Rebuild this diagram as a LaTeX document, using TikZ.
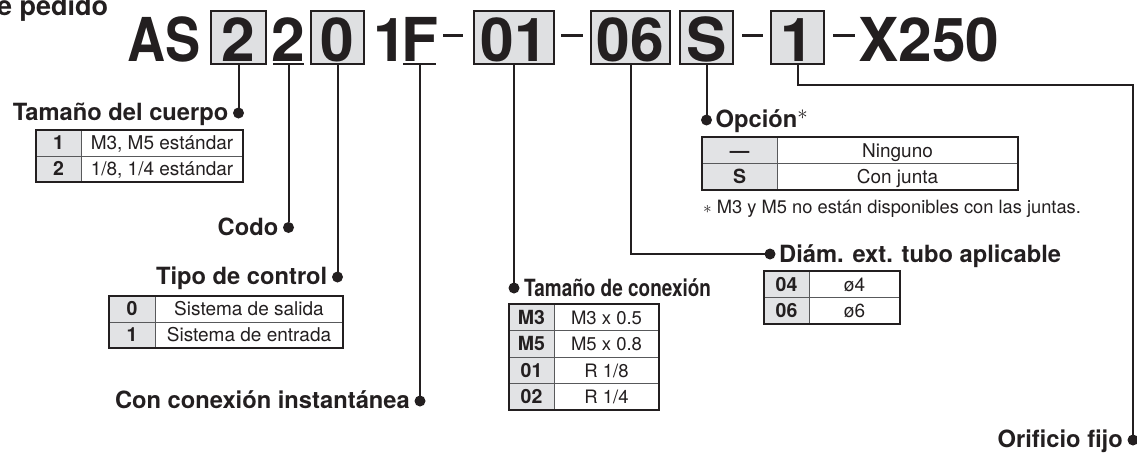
\documentclass[tikz,border=0pt]{standalone}
\usepackage{fontspec}
\setmainfont{TeX Gyre Heros}
\usetikzlibrary{calc}
\definecolor{ink}{HTML}{231F20}
\definecolor{boxgray}{HTML}{DFE0E2}
\definecolor{hdrgray}{HTML}{E2E3E5}
\definecolor{rulegray}{HTML}{58595B}
\begin{document}
\begin{tikzpicture}[x=1pt,y=-1pt,
  big/.style={font=\fontsize{60.5}{60}\selectfont\bfseries, text=ink, inner sep=0},
  codebox/.style={big, draw=ink, line width=1.6pt, fill=boxgray, inner xsep=0, inner ysep=0, text height=50.5pt, text depth=2.5pt, anchor=base},
  lbl/.style={font=\fontsize{23.7}{24}\selectfont\bfseries, text=ink, inner sep=0},
  pdot/.style={circle, fill=ink, minimum size=11pt, inner sep=0, outer sep=0},
  conn/.style={draw=ink, line width=2pt},
  dashbar/.style={draw=ink, line width=3pt},
  cell/.style={font=\fontsize{19}{19}\selectfont, text=ink, inner sep=0, anchor=base},
  hcell/.style={font=\fontsize{19.5}{19}\selectfont\bfseries, text=ink, inner sep=0, anchor=base},
  inrule/.style={draw=rulegray, line width=0.8pt},
  outrule/.style={draw=ink, line width=1.2pt},
  toprule/.style={draw=ink, line width=2pt},
]
\useasboundingbox (0,0) rectangle (1137,453);

% ---- title fragment
\node[font=\fontsize{27}{27}\selectfont\bfseries, text=ink, inner sep=0, anchor=base west] (title) at (-3,15.5) {e pedido};

% ---- code line
\node[big, anchor=base east] (as) at (201,61.5) {\scalebox{0.87}[1]{AS}};
\node[codebox, minimum width=55pt] (b1) at (238.5,61.5) {2};
\node[big, anchor=base] (p2) at (288.5,61.5) {2};
\node[codebox, minimum width=53pt] (b0) at (337.5,61.5) {0};
\node[big, anchor=base] (one) at (390,61.5) {1};
\node[big, anchor=base] (ff) at (420,61.5) {F};
\node[codebox, minimum width=80pt] (b01) at (514,61.5) {01};
\node[codebox, minimum width=79pt] (b06) at (630.5,61.5) {06};
\node[codebox, minimum width=53pt] (bS) at (706.5,61.5) {S};
\node[codebox, minimum width=53pt] (bL) at (797.5,61.5) {1};
\node[big, anchor=base west] (x250) at (858,61.5) {X250};

\draw[dashbar] (443,35) -- (463,35);
\draw[dashbar] (561,35) -- (583,35);
\draw[dashbar] (742,35) -- (763,35);
\draw[dashbar] (833,35) -- (855,35);

\coordinate (u2) at (288.5,63.5);
\coordinate (uF) at (420,63.5);
\draw[conn] (273,63.5) -- (304,63.5);
\draw[conn] (403,63.5) -- (436,63.5);

% ---- dots
\node[pdot] (dC) at (238.5,113) {};
\node[pdot] (dCodo) at (288.5,227.5) {};
\node[pdot] (dT) at (337.5,277) {};
\node[pdot] (dF) at (420,401) {};
\node[pdot] (dX) at (514,288) {};
\node[pdot] (dD) at (770,254) {};
\node[pdot] (dO) at (706.5,120) {};
\node[pdot] (dR) at (1133,440) {};
\coordinate (kR) at (1133,85);

% ---- connectors
\draw[conn] (b1.south) -- (dC);
\draw[conn] (u2) -- (dCodo);
\draw[conn] (b0.south) -- (dT);
\draw[conn] (uF) -- (dF);
\draw[conn] (b01.south) -- (dX);
\draw[conn] (b06.south) |- (dD);
\draw[conn] (bS.south) -- (dO);
\draw[conn] (bL.south) |- (kR) -- (dR);

% ---- labels
\node[lbl, anchor=base east] (lC) at ($(dC)+(-10,7.5)$) {Tamaño del cuerpo};
\node[lbl, anchor=base east] (lCodo) at ($(dCodo)+(-10,7.5)$) {Codo};
\node[lbl, anchor=base east] (lT) at ($(dT)+(-10,7.5)$) {Tipo de control};
\node[lbl, anchor=base east] (lF) at ($(dF)+(-10,7.5)$) {Con conexión instantánea};
\node[lbl, anchor=base west] (lX) at ($(dX)+(10,8)$) {\scalebox{0.8}[1]{Tamaño de conexión}};
\node[lbl, anchor=base west] (lD) at ($(dD)+(9,8)$) {Diám. ext. tubo aplicable};
\node[lbl, anchor=base west] (lO) at ($(dO)+(9,7.5)$) {Opción\raisebox{8pt}{\normalfont\fontsize{22}{22}\selectfont$\ast$}};
\node[lbl, anchor=base east] (lR) at ($(dR)+(-10,7.5)$) {Orificio fijo};

% ---- table 1: cuerpo
\fill[hdrgray] (36,130) rectangle (81,182);
\draw[inrule] (36,156) -- (243,156) (81,130) -- (81,182);
\draw[outrule] (36,130) rectangle (243,182);
\draw[toprule] (36,130) -- (243,130);
\node[hcell] (t1a) at (58.5,149.8) {1};
\node[cell] (t1b) at (162,149.8) {M3, M5 estándar};
\node[hcell] (t1c) at (58.5,175.8) {2};
\node[cell] (t1d) at (162,175.8) {1/8, 1/4 estándar};

% ---- table 2: tipo de control
\fill[hdrgray] (109,296) rectangle (155,348);
\draw[inrule] (109,322) -- (343,322) (155,296) -- (155,348);
\draw[outrule] (109,296) rectangle (343,348);
\draw[toprule] (109,296) -- (343,296);
\node[hcell] (t2a) at (132,315.8) {0};
\node[cell] (t2b) at (249,315.8) {Sistema de salida};
\node[hcell] (t2c) at (132,341.8) {1};
\node[cell] (t2d) at (249,341.8) {Sistema de entrada};

% ---- table 3: tamaño de conexión
\fill[hdrgray] (509,304) rectangle (554,410);
\draw[inrule] (509,330.5) -- (659,330.5) (509,357) -- (659,357) (509,383.5) -- (659,383.5) (554,304) -- (554,410);
\draw[outrule] (509,304) rectangle (659,410);
\draw[toprule] (509,304) -- (659,304);
\node[hcell] (t3a) at (531.5,324) {M3};
\node[cell, font=\fontsize{18.5}{18}\selectfont] (t3b) at (606.5,324) {M3 x 0.5};
\node[hcell] (t3c) at (531.5,350.5) {M5};
\node[cell, font=\fontsize{18.5}{18}\selectfont] (t3d) at (606.5,350.5) {M5 x 0.8};
\node[hcell] (t3e) at (531.5,377) {01};
\node[cell, font=\fontsize{18.5}{18}\selectfont] (t3f) at (606.5,377) {R 1/8};
\node[hcell] (t3g) at (531.5,403.5) {02};
\node[cell, font=\fontsize{18.5}{18}\selectfont] (t3h) at (606.5,403.5) {R 1/4};

% ---- table 4: opción
\fill[hdrgray] (702,137) rectangle (777,190);
\draw[inrule] (702,163.5) -- (1018,163.5) (777,137) -- (777,190);
\draw[outrule] (702,137) rectangle (1018,190);
\draw[toprule] (702,137) -- (1018,137);
\node[hcell] (t4a) at (739.5,157) {—};
\node[cell] (t4b) at (897.5,157) {Ninguno};
\node[hcell] (t4c) at (739.5,183.5) {S};
\node[cell] (t4d) at (897.5,183.5) {Con junta};
\node[cell, anchor=base west, font=\fontsize{18.3}{18}\selectfont] (fn) at (703,213) {$\ast$ M3 y M5 no están disponibles con las juntas.};

% ---- table 5: diámetro
\fill[hdrgray] (764,271) rectangle (809,324);
\draw[inrule] (764,297.5) -- (900,297.5) (809,271) -- (809,324);
\draw[outrule] (764,271) rectangle (900,324);
\draw[toprule] (764,271) -- (900,271);
\node[hcell] (t5a) at (786.5,291) {04};
\node[cell] (t5b) at (854.5,291) {ø4};
\node[hcell] (t5c) at (786.5,317.5) {06};
\node[cell] (t5d) at (854.5,317.5) {ø6};
\end{tikzpicture}
\end{document}
